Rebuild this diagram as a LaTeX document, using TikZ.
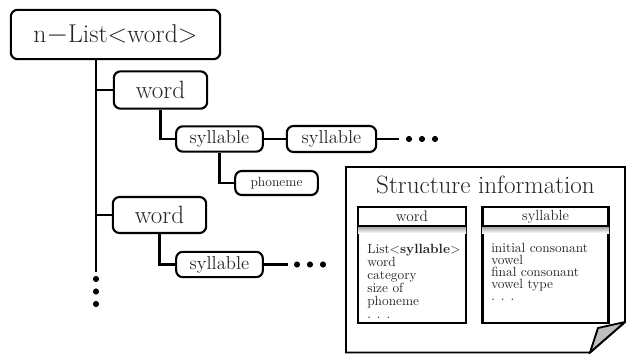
\documentclass[tikz,border=0pt]{standalone}
\usepackage{tikz}

\tikzset{
  box/.style={draw, line width=1.6pt, rounded corners=5pt, inner sep=0pt, fill=white, text=black!85},
  conn/.style={line width=1.6pt},
  tab/.style={draw, line width=2.2pt, inner sep=0pt},
  dot/.style={circle, fill, inner sep=0pt, minimum size=4.6pt}
}

\begin{document}
\begin{tikzpicture}[x=0.75pt,y=0.75pt,yscale=-1,xscale=1]
\useasboundingbox (0,0) rectangle (626,354);
% Boxes
\node[box, minimum width=157pt, minimum height=37pt, font=\fontsize{19.3}{22}\selectfont] (nlist) at (115.5,34.5) {n$-$List<word>};
\node[box, minimum width=70pt, minimum height=28pt, font=\fontsize{18.8}{22}\selectfont] (word1) at (160.5,90) {word};
\node[box, minimum width=65pt, minimum height=19pt, font=\fontsize{14}{16}\selectfont] (syl1) at (219.5,139) {syllable};
\node[box, minimum width=67pt, minimum height=19.5pt, font=\fontsize{14}{16}\selectfont] (syl2) at (331.5,139) {syllable};
\node[box, minimum width=62pt, minimum height=18pt, font=\fontsize{10}{11}\selectfont] (phon) at (276.5,183) {phoneme};
\node[box, minimum width=70pt, minimum height=27pt, font=\fontsize{18.8}{22}\selectfont] (word2) at (159.5,215) {word};
\node[box, minimum width=65pt, minimum height=19pt, font=\fontsize{14}{16}\selectfont] (syl3) at (219.5,264.5) {syllable};
% Trunk
\coordinate (trunkend) at (96,272);
\draw[conn] (nlist.south -| trunkend) -- (trunkend);
\draw[conn] (word1.west -| trunkend) -- (word1.west);
\draw[conn] (word2.west -| trunkend) -- (word2.west);
\node[dot] (vd1) at (96,279) {};
\node[dot] (vd2) at (96,291.5) {};
\node[dot] (vd3) at (96,304) {};
% Branches
\draw[conn] (word1.south) |- (syl1.west);
\draw[conn] (syl1.east) -- (syl2.west);
\draw[conn] (syl1.south) |- (phon.west);
\draw[conn] (word2.south) |- (syl3.west);
\coordinate (syl2end) at (399,139);
\draw[conn] (syl2.east) -- (syl2end);
\node[dot] (hd1) at (409,139) {};
\node[dot] (hd2) at (422,139) {};
\node[dot] (hd3) at (435,139) {};
\coordinate (syl3end) at (288,264.5);
\draw[conn] (syl3.east) -- (syl3end);
\node[dot] (sd1) at (297,264.5) {};
\node[dot] (sd2) at (310,264.5) {};
\node[dot] (sd3) at (323,264.5) {};
% Structure information sheet
\draw[line width=1.4pt] (346,167) -- (625,167) -- (625,322) -- (590,352.5) -- (346,352.5) -- cycle;
\draw[line width=1.4pt, fill=black!25] (590,352.5) -- (598,328) -- (625,322) -- cycle;
\node[text=black!85, font=\fontsize{18.8}{22}\selectfont] (title) at (485.5,185) {Structure information};
% Tables
\node[tab, minimum width=81pt, minimum height=87pt] (wordtab) at (412,265) {};
\node[tab, minimum width=95pt, minimum height=87pt] (syltab) at (545.5,265) {};
\shade[top color=black!35, bottom color=white] (358,227) rectangle (466,233);
\shade[top color=black!35, bottom color=white] (482,227) rectangle (609,233);
\draw[line width=2.2pt] (358,226) -- (466,226);
\draw[line width=2.2pt] (482,226) -- (609,226);
\node[text=black!85, font=\fontsize{11.5}{13}\selectfont] (wordhead) at (412,216.5) {word};
\node[text=black!85, font=\fontsize{11}{13}\selectfont] (sylhead) at (545.5,216.5) {syllable};
\begin{scope}
\clip (360,228) rectangle (464,321);
\node[text=black!85, font=\fontsize{10}{9.8}\selectfont, align=left, anchor=north west, inner sep=0pt] (wordlist) at (367,243.5)
  {List<\textbf{syllable}>\\word\\category\\size of\\phoneme\\. . .};
\end{scope}
\node[text=black!85, font=\fontsize{10}{9}\selectfont, align=left, anchor=north west, inner sep=0pt] (syllist) at (491,243)
  {initial consonant\\vowel\\final consonant\\vowel type\\. . .};
\end{tikzpicture}
\end{document}
